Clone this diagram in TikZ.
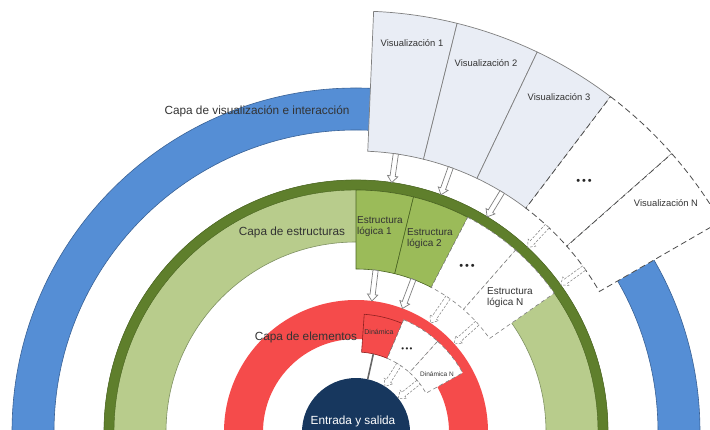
\documentclass[tikz,border=0pt]{standalone}
\usepackage{fontspec}
\setmainfont{Liberation Sans}
\usetikzlibrary{calc}

\definecolor{ringblue}{HTML}{558ED5}
\definecolor{ringblueedge}{HTML}{3A6296}
\definecolor{greendark}{HTML}{5F7F2C}
\definecolor{greenlight}{HTML}{B8CC8C}
\definecolor{greenbox}{HTML}{9BBB59}
\definecolor{greenedge}{HTML}{4A6422}
\definecolor{ringred}{HTML}{F54B4B}
\definecolor{rededge}{HTML}{8E2020}
\definecolor{navy}{HTML}{17375E}
\definecolor{visfill}{HTML}{E9EDF5}
\definecolor{lineg}{HTML}{7F7F7F}
\definecolor{labelc}{HTML}{333333}

% annular sector: style, from angle, to angle (degrees clockwise from the top), outer radius, inner radius
\newcommand\ringsector[5]{%
  \path[#1] (90-#2:#4) arc[start angle={90-#2}, end angle={90-#3}, radius=#4]
    -- (90-#3:#5) arc[start angle={90-#3}, end angle={90-#2}, radius=#5] -- cycle;}
% hollow radial arrow: style, angle, start radius, tip radius
\newcommand\radialarrow[4]{%
  \begin{scope}[rotate={90-#2}]
    \path[#1] (#3,2.6) -- ({#4+6.5},2.6) -- ({#4+6.5},5.2) -- (#4,0)
      -- ({#4+6.5},-5.2) -- ({#4+6.5},-2.6) -- (#3,-2.6) -- cycle;
  \end{scope}}

\begin{document}
\begin{tikzpicture}[x=1pt,y=1pt,
  layerlabel/.style={text=labelc, font=\fontsize{11.8}{13}\selectfont, inner sep=0pt},
  vislabel/.style={text=labelc, font=\fontsize{9.4}{11}\selectfont, inner sep=0pt},
  structlabel/.style={text=labelc, font=\fontsize{10}{11}\selectfont, inner sep=0pt, align=left, anchor=west},
  dynlabel/.style={text=labelc, font=\fontsize{7}{8}\selectfont, inner sep=0pt},
  dotslabel/.style={text=black!85, font=\fontsize{11}{12}\selectfont, inner sep=0pt},
  visbox/.style={fill=visfill, draw=lineg, line width=0.7pt},
  openbox/.style={fill=white, draw=black!70, line width=0.8pt, dash pattern=on 6pt off 3.5pt},
  openbox2/.style={fill=white, draw=lineg, line width=0.6pt, dash pattern=on 4pt off 3pt},
  arrowsolid/.style={fill=white, draw=lineg, line width=0.7pt},
  arrowdash/.style={fill=white, draw=lineg, line width=0.5pt, dash pattern=on 2.5pt off 1.5pt},
]
\useasboundingbox (0,0) rectangle (710,429);
\clip (0,0) rectangle (710,429);

\begin{scope}[shift={(356,-3)}]
  % concentric layers
  \ringsector{fill=ringblue, draw=ringblueedge, line width=0.6pt}{-90}{90}{344}{302}
  \ringsector{fill=greenlight, draw=greenedge!70, line width=0.6pt}{-90}{90}{252}{190}
  \ringsector{fill=greendark, draw=greenedge, line width=0.4pt}{-90}{90}{252}{242}
  \ringsector{fill=ringred}{-90}{90}{132}{93}
  \fill[navy] (0,0) circle[radius=54];

  % visualisation views
  \ringsector{visbox}{2.4}{13.9}{421}{281}
  \ringsector{visbox}{13.9}{25.5}{421}{281}
  \ringsector{visbox}{25.5}{37.2}{421}{281}
  \ringsector{openbox}{37.2}{48.6}{421}{281}
  \ringsector{openbox}{48.6}{60}{421}{281}

  % logical structures
  \ringsector{fill=greenbox, draw=greenedge, line width=0.6pt}{0}{13.75}{242}{163}
  \ringsector{fill=greenbox, draw=greenedge, line width=0.6pt}{13.75}{27.5}{242}{163}
  \ringsector{openbox2}{27.5}{41.25}{242}{163}
  \ringsector{openbox2}{41.25}{55}{242}{163}

  % dynamic elements
  \ringsector{fill=ringred, draw=rededge, line width=0.6pt}{4}{23}{118}{80}
  \ringsector{openbox2}{23}{42}{122}{80}
  \ringsector{openbox2}{42}{61}{122}{80}

  % views -> structures
  \radialarrow{arrowsolid}{8.15}{281}{252}
  \radialarrow{arrowsolid}{19.7}{281}{252}
  \radialarrow{arrowsolid}{31.35}{281}{252}
  \radialarrow{arrowdash}{42.9}{281}{252}
  \radialarrow{arrowdash}{54.3}{281}{252}

  % structures -> elements
  \radialarrow{arrowsolid}{6.9}{163}{132}
  \radialarrow{arrowsolid}{20.6}{163}{132}
  \radialarrow{arrowdash}{34.4}{163}{132}
  \radialarrow{arrowdash}{48.1}{163}{132}

  % elements -> input/output
  \draw[draw=black!60, line width=1.6pt] (90-12.5:80) -- (90-12.5:54);
  \radialarrow{arrowdash}{32.5}{80}{54}
  \radialarrow{arrowdash}{51.5}{80}{54}
\end{scope}

\begin{scope}[shift={(0,429)}, y=-1pt]
  \node[layerlabel] (lvis) at (257,111) {Capa de visualización e interacción};
  \node[layerlabel] (lstr) at (292,232) {Capa de estructuras};
  \node[layerlabel] (lele) at (306,337) {Capa de elementos};
  \node[text=white, font=\fontsize{11.8}{13}\selectfont, inner sep=0pt] (io) at (353,421) {Entrada y salida};

  \node[vislabel] (v1) at (412,43) {Visualización 1};
  \node[vislabel] (v2) at (486,63) {Visualización 2};
  \node[vislabel] (v3) at (559,97) {Visualización 3};
  \node[dotslabel] (vdots) at (584,182) {\textbullet\,\textbullet\,\textbullet};
  \node[vislabel] (vn) at (666,203) {Visualización N};

  \node[structlabel] (s1) at (357,227) {Estructura\\lógica 1};
  \node[structlabel] (s2) at (407,239) {Estructura\\lógica 2};
  \node[dotslabel] (sdots) at (467,267) {\textbullet\,\textbullet\,\textbullet};
  \node[structlabel] (sn) at (487,298) {Estructura\\lógica N};

  \node[dynlabel] (d1) at (379,332) {Dinámica};
  \node[dotslabel, font=\fontsize{8}{9}\selectfont] (ddots) at (407,350) {\textbullet\,\textbullet\,\textbullet};
  \node[dynlabel, font=\fontsize{6.5}{7}\selectfont] (dn) at (437,374) {Dinámica N};
\end{scope}
\end{tikzpicture}
\end{document}
